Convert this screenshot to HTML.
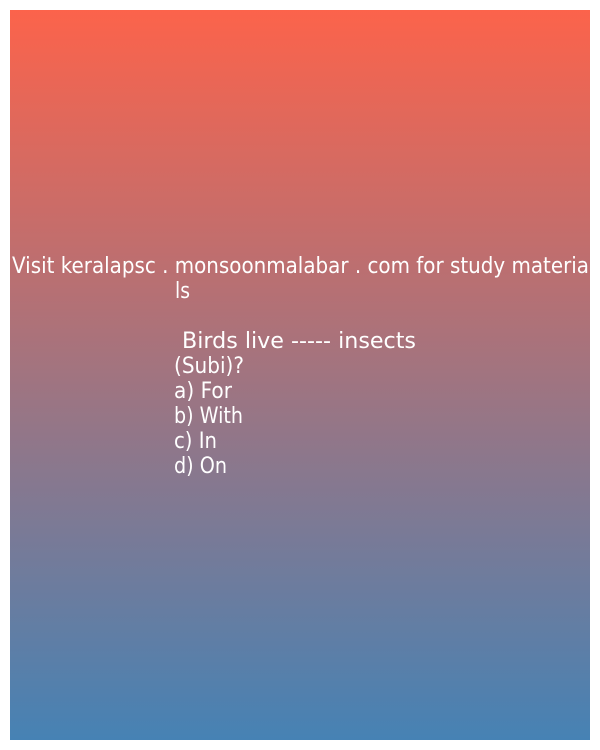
<!DOCTYPE html>
<html>
<head>
<meta charset="utf-8">
<style>
html,body{margin:0;padding:0;background:#fff;width:600px;height:750px;overflow:hidden;}
svg{display:block;}
text{font-family:"DejaVu Sans","Liberation Sans",sans-serif;font-size:22px;fill:#fff;}
</style>
</head>
<body>
<svg width="600" height="750">
  <defs>
    <linearGradient id="g" x1="0" y1="0" x2="0" y2="1">
      <stop offset="0" stop-color="#fc634b"/>
      <stop offset="0.5" stop-color="#a17480"/>
      <stop offset="1" stop-color="#4682b4"/>
    </linearGradient>
  </defs>
  <rect x="10" y="10" width="580" height="730" fill="url(#g)"/>
  <text x="12" y="273" textLength="577" lengthAdjust="spacingAndGlyphs">Visit keralapsc . monsoonmalabar . com for study materia</text>
  <text x="175" y="298" textLength="15" lengthAdjust="spacingAndGlyphs">ls</text>
  <text x="182" y="348" textLength="234" lengthAdjust="spacingAndGlyphs">Birds live ----- insects</text>
  <text x="174" y="373" textLength="70" lengthAdjust="spacingAndGlyphs">(Subi)?</text>
  <text x="174" y="398" textLength="58" lengthAdjust="spacingAndGlyphs">a) For</text>
  <text x="174" y="423" textLength="69" lengthAdjust="spacingAndGlyphs">b) With</text>
  <text x="174" y="448" textLength="43" lengthAdjust="spacingAndGlyphs">c) In</text>
  <text x="174" y="473" textLength="53" lengthAdjust="spacingAndGlyphs">d) On</text>
</svg>
</body>
</html>
